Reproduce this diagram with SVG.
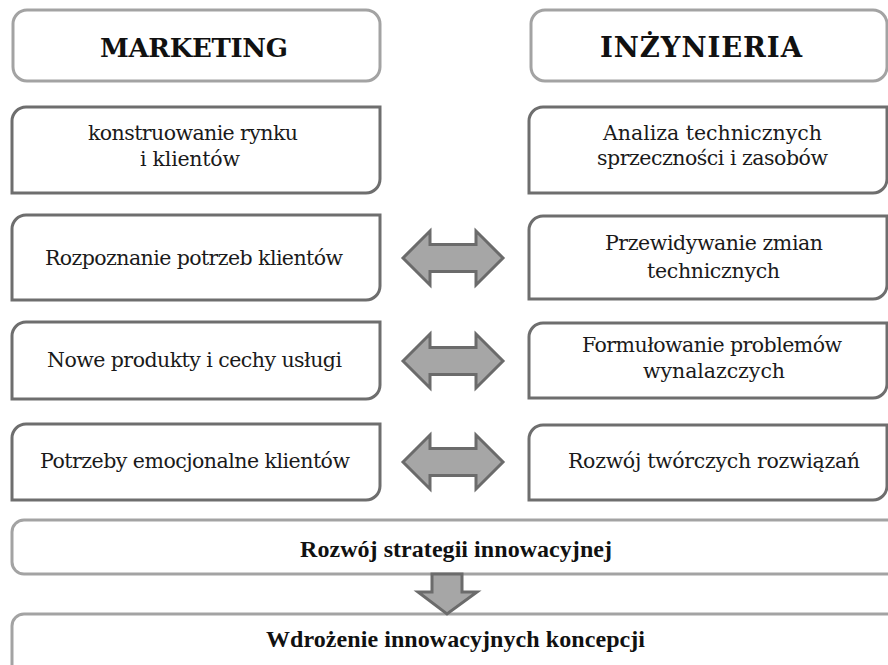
<svg xmlns="http://www.w3.org/2000/svg" width="888" height="665" viewBox="0 0 888 665">
<style>
.hdr{fill:#fff;stroke:#a3a3a3;stroke-width:3}
.box{fill:#fff;stroke:#6e6e6e;stroke-width:3}
.arr{fill:#a6a6a6;stroke:#6b6b6b;stroke-width:3;stroke-linejoin:miter}
.ht{font-family:"DejaVu Serif","Liberation Serif",serif;font-weight:bold;font-size:26px;fill:#111}
.bt{font-family:"Liberation Serif","Times New Roman",serif;font-weight:bold;font-size:24px;fill:#111}
.t{font-family:"DejaVu Serif","Liberation Serif",serif;font-size:20.5px;fill:#1a1a1a}
</style>
<rect width="888" height="665" fill="#fff"/>
<g id="marketing">
<rect class="hdr" x="13" y="10" width="367" height="71" rx="14"/>
<text class="ht" x="194" y="57" text-anchor="middle" textLength="188">MARKETING</text>
</g>
<g id="inzynieria">
<rect class="hdr" x="531" y="10" width="356" height="71" rx="14"/>
<text class="ht" x="701" y="57" text-anchor="middle" textLength="202" style="font-size:27.5px">INŻYNIERIA</text>
</g>
<g id="m1">
<path class="box" d="M26,107 H380 V179 A14,14 0 0 1 366,193 H12 V121 A14,14 0 0 1 26,107 Z"/>
<text class="t" x="193" y="140" text-anchor="middle" textLength="210">konstruowanie rynku</text>
<text class="t" x="190" y="166" text-anchor="middle" textLength="100">i klientów</text>
</g>
<g id="e1">
<path class="box" d="M543,107 H887 V179 A14,14 0 0 1 873,193 H529 V121 A14,14 0 0 1 543,107 Z"/>
<text class="t" x="712.5" y="140" text-anchor="middle" textLength="219">Analiza technicznych</text>
<text class="t" x="712.5" y="165" text-anchor="middle" textLength="231">sprzeczności i zasobów</text>
</g>
<g id="m2">
<path class="box" d="M26,215 H380 V286 A14,14 0 0 1 366,300 H12 V229 A14,14 0 0 1 26,215 Z"/>
<text class="t" x="194" y="265" text-anchor="middle" textLength="298">Rozpoznanie potrzeb klientów</text>
</g>
<g id="e2">
<path class="box" d="M543,216 H887 V285 A14,14 0 0 1 873,299 H529 V230 A14,14 0 0 1 543,216 Z"/>
<text class="t" x="714" y="250" text-anchor="middle" textLength="218">Przewidywanie zmian</text>
<text class="t" x="713.5" y="278" text-anchor="middle" textLength="133">technicznych</text>
</g>
<g id="m3">
<path class="box" d="M26,322 H380 V385 A14,14 0 0 1 366,399 H12 V336 A14,14 0 0 1 26,322 Z"/>
<text class="t" x="194.5" y="367" text-anchor="middle" textLength="295">Nowe produkty i cechy usługi</text>
</g>
<g id="e3">
<path class="box" d="M543,323 H887 V384 A14,14 0 0 1 873,398 H529 V337 A14,14 0 0 1 543,323 Z"/>
<text class="t" x="712" y="352" text-anchor="middle" textLength="260">Formułowanie problemów</text>
<text class="t" x="714" y="378" text-anchor="middle" textLength="142">wynalazczych</text>
</g>
<g id="m4">
<path class="box" d="M26,424 H380 V486 A14,14 0 0 1 366,500 H12 V438 A14,14 0 0 1 26,424 Z"/>
<text class="t" x="195" y="468" text-anchor="middle" textLength="310">Potrzeby emocjonalne klientów</text>
</g>
<g id="e4">
<path class="box" d="M543,425 H887 V486 A14,14 0 0 1 873,500 H529 V439 A14,14 0 0 1 543,425 Z"/>
<text class="t" x="714" y="468" text-anchor="middle" textLength="292">Rozwój twórczych rozwiązań</text>
</g>
<g id="strategia">
<rect class="hdr" x="12" y="520" width="900" height="54" rx="12"/>
<text class="bt" x="456" y="557" text-anchor="middle" textLength="312">Rozwój strategii innowacyjnej</text>
</g>
<g id="wdrozenie">
<rect class="hdr" x="12" y="614" width="900" height="80" rx="12"/>
<text class="bt" x="455.5" y="647" text-anchor="middle" textLength="379">Wdrożenie innowacyjnych koncepcji</text>
</g>
<g id="connectors">
<path class="arr" d="M403,258 L430,231 L430,244.5 L476,244.5 L476,231 L503,258 L476,285 L476,271.5 L430,271.5 L430,285 Z"/>
<path class="arr" d="M403,361 L430,334 L430,347.5 L476,347.5 L476,334 L503,361 L476,388 L476,374.5 L430,374.5 L430,388 Z"/>
<path class="arr" d="M403,462 L430,435 L430,448.5 L476,448.5 L476,435 L503,462 L476,489 L476,475.5 L430,475.5 L430,489 Z"/>
<path class="arr" d="M432,574 L462,574 L462,592 L477,592 L447,614 L418,592 L432,592 Z"/>
</g>
</svg>
